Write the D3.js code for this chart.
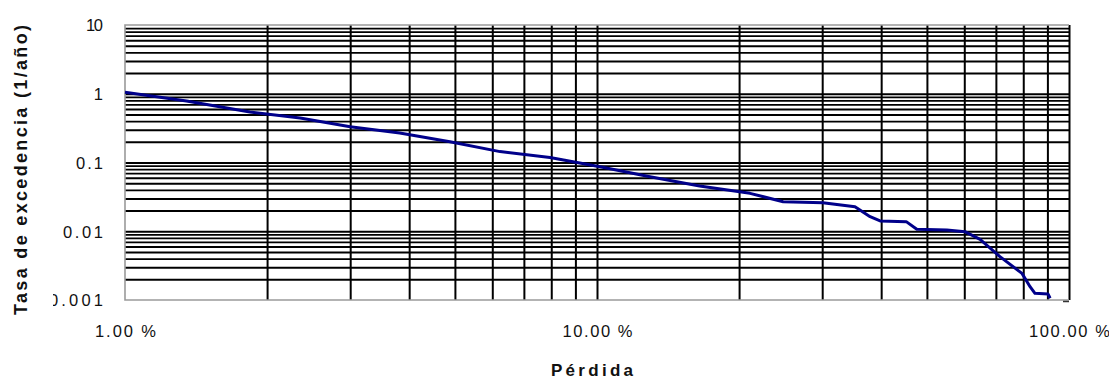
<!DOCTYPE html>
<html>
<head>
<meta charset="utf-8">
<script src="https://cdn.jsdelivr.net/npm/d3@7"></script>
<style>
  html, body { margin: 0; padding: 0; background: #fff; }
  svg { display: block; }
  text { font-family: "Liberation Sans", Arial, sans-serif; fill: #111; }
</style>
</head>
<body>
<svg id="chart" width="1109" height="381"></svg>
<script>
// Loss exceedance curve: loss (% of value) vs annual exceedance rate
const lossPct = [1, 1.35, 1.84, 2.35, 3.0, 3.82, 4.88, 6.23, 7.95, 10.15, 12.95, 16.5, 21.1, 24.8,
  30.1, 35.2, 37.9, 39.8, 45.2, 47.6, 55.1, 60.2, 64.8, 71.4, 79.5, 82.7, 84.7, 90.3, 91.2];
const exceedanceRate = [1.05, 0.784, 0.543, 0.444, 0.332, 0.269, 0.201, 0.144, 0.118, 0.0869, 0.0621,
  0.0455, 0.0356, 0.0269, 0.026, 0.0228, 0.0163, 0.0141, 0.0138, 0.0107, 0.0104, 0.00985, 0.00764,
  0.00427, 0.00244, 0.00156, 0.00125, 0.00122, 0.00106];

const yTickValues = [10, 1, 0.1, 0.01, 0.001];
const yTickLabels = ["10", "1", "0.1", "0.01", "0.001"];
const xTickValues = [1, 10, 100];
const xTickLabels = ["1.00 %", "10.00 %", "100.00 %"];
const xTitle = "Pérdida";
const yTitle = "Tasa de excedencia (1/año)";

const svg = d3.select("#chart");
const plot = { left: 125, right: 1069, top: 25, bottom: 300 };

const x = d3.scaleLog().domain([1, 100]).range([plot.left, plot.right]);
const y = d3.scaleLog().domain([0.001, 10]).range([plot.bottom, plot.top]);

// grid values at 1..9 times each decade
function decadeValues(lo, hi) {
  const out = [];
  for (let e = Math.log10(lo); e < Math.log10(hi); e++) {
    for (let m = 1; m <= 9; m++) out.push(m * Math.pow(10, e));
  }
  return out;
}
const hGrid = decadeValues(0.001, 10).filter(v => v > 0.0011);
const vGrid = decadeValues(1, 100).filter(v => v > 1.01).concat([100]);

const grid = svg.append("g").attr("class", "grid");
grid.append("g").call(
  d3.axisLeft(y).tickValues(hGrid).tickSize(-(plot.right - plot.left)).tickFormat("")
).attr("transform", `translate(${plot.left},0)`)
 .call(g => g.select(".domain").remove())
 .call(g => g.selectAll("line").attr("stroke", "#000").attr("stroke-width", 1.9));

grid.append("g").call(
  d3.axisBottom(x).tickValues(vGrid).tickSize(-(plot.bottom - plot.top)).tickFormat("")
).attr("transform", `translate(0,${plot.bottom})`)
 .call(g => g.select(".domain").remove())
 .call(g => g.selectAll("line").attr("stroke", "#000").attr("stroke-width", 2));

// plot frame (left, top, bottom)
svg.append("path")
  .attr("d", `M${plot.right},${plot.top}H${plot.left}V${plot.bottom}H${plot.right}`)
  .attr("fill", "none").attr("stroke", "#9a9a9a").attr("stroke-width", 1.6);
svg.append("line")
  .attr("x1", plot.right - 6).attr("x2", plot.right)
  .attr("y1", plot.bottom + 1.5).attr("y2", plot.bottom + 1.5)
  .attr("stroke", "#333").attr("stroke-width", 1.5);

// curve
const pts = lossPct.map((p, i) => [p, exceedanceRate[i]]);
svg.append("path")
  .datum(pts)
  .attr("d", d3.line().x(d => x(d[0])).y(d => y(d[1])))
  .attr("fill", "none")
  .attr("stroke", "#00008a")
  .attr("stroke-width", 3)
  .attr("stroke-linejoin", "round");

// y axis labels (left edge clipped)
svg.append("clipPath").attr("id", "yclip")
  .append("rect").attr("x", 53 - plot.left).attr("y", 0).attr("width", 70).attr("height", 381);
const yLabelLen = { "10": 17, "1": 6, "0.1": 27, "0.01": 40, "0.001": 54 };
svg.append("g")
  .attr("transform", `translate(${plot.left},0)`)
  .attr("clip-path", "url(#yclip)")
  .call(d3.axisLeft(y).tickValues(yTickValues).tickSize(0).tickPadding(22)
        .tickFormat((d, i) => yTickLabels[i]))
  .call(g => g.select(".domain").remove())
  .call(g => g.selectAll("text")
    .attr("font-size", 16.5)
    .attr("font-family", "Liberation Sans, Arial, sans-serif")
    .attr("fill", "#111")
    .attr("dy", "0.36em")
    .attr("textLength", d => yLabelLen[yTickLabels[yTickValues.indexOf(d)]])
    .attr("lengthAdjust", "spacing"));

// x axis labels
const xLabelLen = { 1: 61, 10: 70, 100: 81 };
svg.append("g")
  .attr("transform", `translate(0,${plot.bottom})`)
  .call(d3.axisBottom(x).tickValues(xTickValues).tickSize(0).tickPadding(25)
        .tickFormat((d, i) => xTickLabels[i]))
  .call(g => g.select(".domain").remove())
  .call(g => g.selectAll("text")
    .attr("font-size", 16.5)
    .attr("font-family", "Liberation Sans, Arial, sans-serif")
    .attr("fill", "#111")
    .attr("textLength", d => xLabelLen[d])
    .attr("lengthAdjust", "spacing"));

// titles
svg.append("text")
  .attr("x", 592).attr("y", 376)
  .attr("text-anchor", "middle")
  .attr("font-size", 17).attr("font-weight", "bold")
  .attr("textLength", 82).attr("lengthAdjust", "spacing")
  .text(xTitle);

svg.append("text")
  .attr("transform", "translate(27,170) rotate(-90)")
  .attr("text-anchor", "middle")
  .attr("font-size", 18).attr("font-weight", "bold")
  .attr("textLength", 290).attr("lengthAdjust", "spacing")
  .text(yTitle);
</script>
</body>
</html>
